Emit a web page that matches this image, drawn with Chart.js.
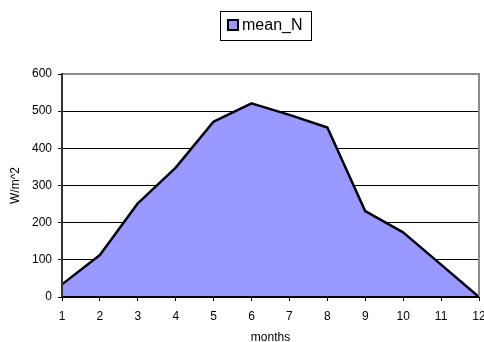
<!DOCTYPE html>
<html>
<head>
<meta charset="utf-8">
<script src="https://cdn.jsdelivr.net/npm/chart.js@4/dist/chart.umd.min.js"></script>
<style>
  html, body { margin: 0; padding: 0; background: #fff; overflow: hidden; }
  #wrap { width: 484px; height: 342px; overflow: hidden; }
  #box { width: 492px; height: 352px; position: relative; }
</style>
</head>
<body>
<div id="wrap"><div id="box"><canvas id="chart"></canvas></div></div>
<script>
const months = ['1', '2', '3', '4', '5', '6', '7', '8', '9', '10', '11', '12']
const meanN = [34, 113, 252, 348, 472, 521, 490, 456, 231, 174, 87, 0]
const yMin = 0
const yMax = 600
const yStep = 100

const FONT = "'Liberation Sans', Arial, sans-serif"
Chart.defaults.font.family = FONT
Chart.defaults.color = '#000'

// excel-ish legend: one item in a thin bordered box
const boxLegend = {
  id: 'boxLegend',
  afterDraw(chart, args, opts) {
    const ctx = chart.ctx
    const ds = chart.data.datasets[0]
    ctx.save()
    ctx.font = '16px ' + FONT
    const tw = ctx.measureText(ds.label).width
    const sw = 10, gap = 4
    const w = Math.round(7 + sw + gap + tw + 10)
    const h = 29
    const x = Math.round(opts.cx - w / 2) + 0.5
    const y = Math.round(opts.cy - h / 2) + 0.5
    ctx.strokeStyle = '#000'
    ctx.lineWidth = 1
    ctx.strokeRect(x, y, w, h)
    const sx = x + 7.5, sy = Math.round(opts.cy - sw / 2)
    ctx.fillStyle = ds.backgroundColor
    ctx.fillRect(sx, sy, sw, sw)
    ctx.lineWidth = 2
    ctx.strokeRect(sx, sy, sw, sw)
    ctx.fillStyle = '#000'
    ctx.textBaseline = 'middle'
    ctx.fillText(ds.label, sx + sw + gap, opts.cy + 1)
    ctx.restore()
  }
}

// plot frame: gray on top/right, dark axes left/bottom, drawn over the fill
const plotFrame = {
  id: 'plotFrame',
  afterDatasetsDraw(chart) {
    const {ctx, chartArea: {left, top, right, bottom}} = chart
    ctx.save()
    ctx.lineWidth = 2
    ctx.strokeStyle = '#8c8c8c'
    ctx.beginPath()
    ctx.moveTo(left, top)
    ctx.lineTo(right, top)
    ctx.lineTo(right, bottom)
    ctx.stroke()
    ctx.strokeStyle = '#333'
    ctx.beginPath()
    ctx.moveTo(left, top - 1)
    ctx.lineTo(left, bottom)
    ctx.stroke()
    ctx.strokeStyle = '#000'
    ctx.beginPath()
    ctx.moveTo(left, bottom)
    ctx.lineTo(right, bottom)
    ctx.stroke()
    ctx.restore()
  }
}

new Chart(document.getElementById('chart'), {
  type: 'line',
  data: {
    labels: months,
    datasets: [{
      label: 'mean_N',
      data: meanN,
      fill: 'origin',
      backgroundColor: '#9999ff',
      borderColor: '#000',
      borderWidth: 2.5,
      borderJoinStyle: 'round',
      pointRadius: 0,
      tension: 0
    }]
  },
  options: {
    responsive: true,
    maintainAspectRatio: false,
    animation: false,
    layout: {
      padding: {top: 74, left: 4, right: 13, bottom: 5}
    },
    scales: {
      x: {
        type: 'category',
        offset: false,
        border: {display: false},
        grid: {
          drawOnChartArea: false,
          drawTicks: true,
          tickLength: 4,
          tickColor: '#000',
          tickWidth: 1
        },
        ticks: {
          autoSkip: false,
          maxRotation: 0,
          padding: 8,
          color: '#000',
          font: {size: 12}
        },
        title: {
          display: true,
          text: 'months',
          color: '#000',
          font: {size: 12},
          padding: {top: 0, bottom: 2}
        },
        afterFit(scale) {
          scale.height = 50
          scale.paddingLeft = 0
          scale.paddingRight = 0
        }
      },
      y: {
        min: yMin,
        max: yMax,
        border: {display: false},
        grid: {
          color: (c) => (c.tick && (c.tick.value === yMin || c.tick.value === yMax)) ? 'rgba(0,0,0,0)' : '#000',
          lineWidth: 1,
          drawTicks: true,
          tickLength: 4,
          tickColor: '#000'
        },
        ticks: {
          stepSize: yStep,
          padding: 6,
          color: '#000',
          font: {size: 12}
        },
        title: {
          display: true,
          text: 'W/m^2',
          color: '#000',
          font: {size: 12},
          padding: {top: 4, bottom: 0}
        },
        afterFit(scale) {
          scale.width = 58
          scale.paddingTop = 0
          scale.paddingBottom = 0
        }
      }
    },
    plugins: {
      legend: {display: false},
      tooltip: {enabled: false},
      boxLegend: {cx: 265.5, cy: 25}
    }
  },
  plugins: [boxLegend, plotFrame]
})
</script>
</body>
</html>
